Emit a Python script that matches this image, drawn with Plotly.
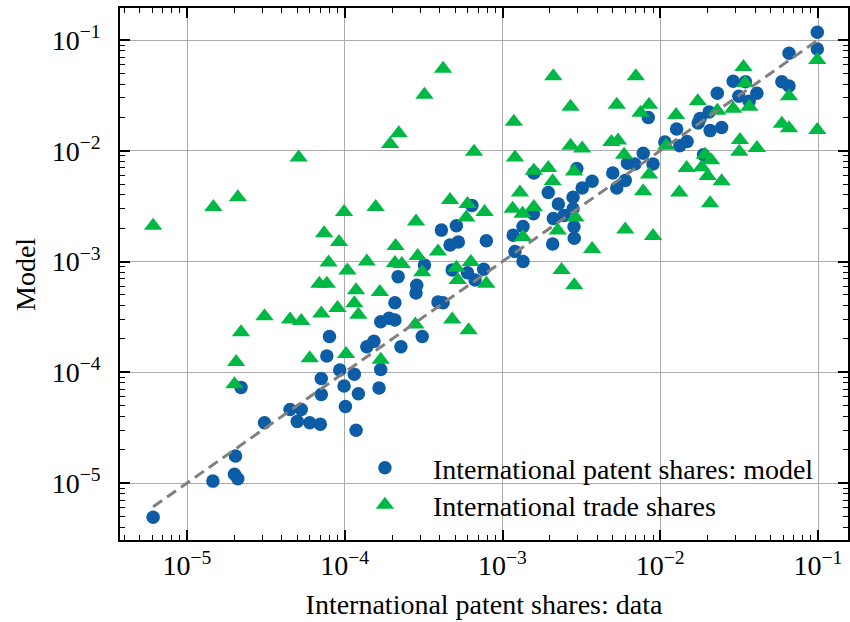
import plotly.graph_objects as go

# International patent shares: data (x) vs model (y), circles
model_x = [6.1e-6, 1.46e-5, 2.03e-5, 2.0e-5, 2.1e-5, 2.2e-5, 3.1e-5, 4.5e-5, 5.3e-5, 5.0e-5,
           6.0e-5, 7.0e-5, 7.1e-5, 7.1e-5, 7.7e-5, 8.0e-5, 9.3e-5, 9.9e-5, 1.01e-4, 1.15e-4,
           1.22e-4, 1.18e-4, 1.38e-4, 1.53e-4, 1.65e-4, 1.69e-4, 1.69e-4, 1.91e-4, 2.08e-4, 2.08e-4,
           2.18e-4, 2.27e-4, 2.86e-4, 2.83e-4, 3.1e-4, 3.2e-4, 3.9e-4, 4.2e-4, 4.1e-4, 4.65e-4,
           5.1e-4, 5.25e-4, 4.8e-4, 6.0e-4, 6.7e-4, 7.6e-4, 6.4e-4, 7.9e-4, 1.17e-3, 1.2e-3,
           1.35e-3, 1.35e-3, 1.58e-3, 1.57e-3, 1.95e-3, 2.08e-3, 2.1e-3, 2.26e-3, 2.45e-3, 2.8e-3,
           2.8e-3, 3.2e-3, 3.7e-3, 2.84e-3, 2.85e-3, 2.96e-3, 5.0e-3, 5.3e-3, 6.0e-3, 6.2e-3,
           6.9e-3, 7.8e-3, 9.0e-3, 8.4e-3, 1.07e-2, 1.33e-2, 1.48e-2, 1.27e-2, 1.88e-2, 1.74e-2,
           2.07e-2, 2.45e-2, 1.79e-2, 2.04e-2, 2.3e-2, 2.9e-2, 3.47e-2, 3.15e-2, 3.66e-2, 4.1e-2,
           5.9e-2, 6.55e-2, 6.55e-2, 9.9e-2, 9.9e-2]
model_y = [4.9e-6, 1.04e-5, 1.75e-5, 1.2e-5, 1.09e-5, 7.3e-5, 3.5e-5, 4.6e-5, 4.6e-5, 3.6e-5,
           3.5e-5, 3.4e-5, 6.3e-5, 8.8e-5, 1.4e-4, 2.1e-4, 1.05e-4, 7.5e-5, 4.9e-5, 9.6e-5,
           6.4e-5, 3.0e-5, 1.7e-4, 1.9e-4, 7.2e-5, 1.06e-4, 2.86e-4, 3.07e-4, 2.96e-4, 4.25e-4,
           7.3e-4, 1.7e-4, 6.1e-4, 5.2e-4, 2.1e-4, 9.3e-4, 4.3e-4, 4.25e-4, 1.92e-3, 1.41e-3,
           2.1e-3, 1.5e-3, 8.4e-4, 7.9e-4, 6.8e-4, 8.5e-4, 3.2e-3, 1.54e-3, 1.73e-3, 1.23e-3,
           1.0e-3, 2.07e-3, 6.3e-3, 2.7e-3, 4.2e-3, 1.44e-3, 2.45e-3, 3.3e-3, 2.6e-3, 3.0e-3,
           3.8e-3, 4.6e-3, 5.3e-3, 2.06e-3, 1.62e-3, 6.9e-3, 6.3e-3, 4.6e-3, 5.4e-3, 7.7e-3,
           7.6e-3, 9.5e-3, 7.6e-3, 2.0e-2, 1.2e-2, 1.11e-2, 1.21e-2, 1.57e-2, 9.2e-3, 1.78e-2,
           1.52e-2, 1.62e-2, 1.96e-2, 2.24e-2, 3.3e-2, 4.25e-2, 4.2e-2, 3.1e-2, 2.8e-2, 3.3e-2,
           4.2e-2, 3.85e-2, 7.6e-2, 0.1175, 8.3e-2]

# International trade shares, triangles
trade_x = [6.1e-6, 1.47e-5, 2.1e-5, 5.1e-5, 9.9e-5, 7.4e-5, 9.2e-5, 7.9e-5, 1.04e-4, 1.38e-4,
           4.2e-4, 3.2e-4, 2.2e-4, 1.94e-4, 6.6e-4, 2.1e-3, 2.7e-3, 1.18e-3, 2.7e-3, 3.2e-3,
           1.2e-3, 1.58e-3, 1.95e-3, 2.84e-3, 2.08e-3, 1.29e-3, 4.65e-4, 6.0e-4, 1.57e-4, 2.83e-4,
           1.16e-3, 1.34e-3, 1.58e-3, 7.7e-4, 5.9e-4, 2.9e-3, 2.24e-3, 1.35e-3, 3.7e-3, 2.1e-4,
           3.9e-4, 2.9e-4, 2.08e-4, 2.3e-4, 5.1e-4, 6.3e-4, 3.1e-4, 2.37e-3, 2.85e-3, 5.2e-4,
           7.9e-4, 1.67e-4, 2.8e-4, 4.8e-4, 6.1e-4, 1.69e-4, 6.9e-5, 7.7e-5, 1.18e-4, 1.15e-4,
           1.22e-4, 9.0e-5, 7.1e-5, 5.3e-5, 4.5e-5, 3.1e-5, 2.2e-5, 2.05e-5, 2.0e-5, 6.0e-5,
           1.02e-4, 5.9e-3, 4.9e-3, 5.4e-3, 6.0e-3, 9.0e-3, 7.0e-3, 5.3e-3, 8.5e-3, 7.5e-3,
           1.26e-2, 1.73e-2, 2.3e-2, 2.9e-2, 3.67e-2, 3.37e-2, 3.45e-2, 6.55e-2, 9.9e-2, 5.9e-2,
           6.55e-2, 9.9e-2, 3.2e-2, 3.17e-2, 4.1e-2, 1.09e-2, 1.92e-2, 2.1e-2, 1.83e-2, 2.0e-2,
           1.47e-2, 8.5e-3, 2.45e-2, 7.8e-3, 1.32e-2, 2.07e-2]
trade_y = [2.1e-3, 3.1e-3, 3.8e-3, 8.7e-3, 2.8e-3, 1.8e-3, 1.5e-3, 9.8e-4, 8.3e-4, 1.0e-3,
           5.5e-2, 3.2e-2, 1.44e-2, 1.15e-2, 9.8e-3, 4.7e-2, 2.5e-2, 1.83e-2, 1.11e-2, 1.05e-2,
           8.7e-3, 6.6e-3, 7.0e-3, 6.5e-3, 5.3e-3, 4.2e-3, 3.6e-3, 3.3e-3, 3.1e-3, 2.3e-3,
           3.0e-3, 2.7e-3, 3.1e-3, 2.8e-3, 2.5e-3, 2.5e-3, 1.9e-3, 1.66e-3, 1.3e-3, 1.38e-3,
           1.23e-3, 1.12e-3, 9.7e-4, 9.5e-4, 8.8e-4, 9.9e-4, 8.0e-4, 8.4e-4, 6.1e-4, 6.8e-4,
           6.3e-4, 5.3e-4, 2.7e-4, 3.0e-4, 2.4e-4, 1.3e-4, 6.3e-4, 6.3e-4, 5.5e-4, 4.2e-4,
           3.3e-4, 3.8e-4, 3.4e-4, 2.9e-4, 3.0e-4, 3.2e-4, 2.3e-4, 1.24e-4, 7.8e-5, 1.34e-4,
           1.46e-4, 9.2e-3, 1.2e-2, 1.24e-2, 1.94e-3, 1.7e-3, 4.7e-2, 2.6e-2, 2.6e-2, 2.2e-2,
           2.1e-2, 2.8e-2, 2.3e-2, 2.4e-2, 2.5e-2, 5.7e-2, 4.1e-2, 3.1e-2, 6.6e-2, 1.75e-2,
           1.6e-2, 1.54e-2, 1.25e-2, 9.8e-3, 1.06e-2, 1.11e-2, 9.2e-3, 8.2e-3, 7.1e-3, 5.9e-3,
           7.0e-3, 6.1e-3, 5.3e-3, 4.3e-3, 4.2e-3, 3.35e-3]

tick_vals = [1e-5, 1e-4, 1e-3, 1e-2, 1e-1]
tick_text = ["10<sup>\u22125</sup>", "10<sup>\u22124</sup>", "10<sup>\u22123</sup>",
             "10<sup>\u22122</sup>", "10<sup>\u22121</sup>"]

FONT = "Liberation Serif"
FS = 28
BLUE = "#0C5DA5"
GREEN = "#00B945"

minor_vals = [k * 10.0 ** e for e in range(-7, 1) for k in range(2, 10)]

fig = go.Figure()
fig.add_trace(go.Scatter(
    x=model_x, y=model_y, mode="markers", name="International patent shares: model",
    legend="legend",
    marker=dict(symbol="circle", size=13.5, color=BLUE, line=dict(width=0))))
fig.add_trace(go.Scatter(
    x=trade_x, y=trade_y, mode="markers", name="International trade shares",
    legend="legend2",
    marker=dict(symbol="triangle-up", size=16, color=GREEN, line=dict(width=0))))
lo = min(min(model_x), min(trade_x))
hi = max(max(model_x), max(trade_x))
fig.add_trace(go.Scatter(
    x=[lo, hi], y=[lo, hi], mode="lines", showlegend=False, hoverinfo="skip",
    line=dict(color="#808080", width=3, dash="11px,6px")))

axis_common = dict(
    type="log", showline=True, linecolor="black", linewidth=1.6, mirror="allticks",
    ticks="inside", ticklen=10, tickwidth=1.5, tickcolor="black",
    showgrid=True, gridcolor="#ababab", gridwidth=1, zeroline=False,
    tickmode="array", tickvals=tick_vals, ticktext=tick_text,
    minor=dict(ticks="inside", ticklen=5, tickwidth=1.2, tickcolor="black",
               showgrid=False, tickmode="array", tickvals=minor_vals),
    tickfont=dict(family=FONT, size=FS, color="black"),
    automargin=False,
)

legend_common = dict(xanchor="left", yanchor="middle", bgcolor="rgba(0,0,0,0)",
                     borderwidth=0, itemwidth=86,
                     font=dict(family=FONT, size=FS, color="black"))

fig.update_layout(
    width=850, height=622,
    margin=dict(l=120, r=2, t=8, b=82),
    paper_bgcolor="white", plot_bgcolor="white",
    font=dict(family=FONT, size=FS, color="black"),
    xaxis=dict(axis_common, range=[-5.4247, -0.8098], ticklabelstandoff=0,
               title=dict(text="International patent shares: data",
                          font=dict(family=FONT, size=FS), standoff=14)),
    yaxis=dict(axis_common, range=[-5.5147, -0.7111], ticklabelstandoff=12),
    legend=dict(legend_common, x=0.298, y=0.1353),
    legend2=dict(legend_common, x=0.298, y=0.0658),
    shapes=[dict(type="rect", xref="paper", yref="paper", x0=0.31, x1=1.0, y0=0.0, y1=0.1786,
                 fillcolor="white", line=dict(width=0), layer="between")],
    annotations=[dict(text="Model", xref="paper", yref="paper", x=-0.1305, y=0.5,
                      xanchor="center", yanchor="middle", textangle=-90, showarrow=False,
                      font=dict(family=FONT, size=FS, color="black"))],
    showlegend=True,
)

fig.write_html("out.html", config={"displayModeBar": False},
               post_script="document.body.style.margin='0px';")
